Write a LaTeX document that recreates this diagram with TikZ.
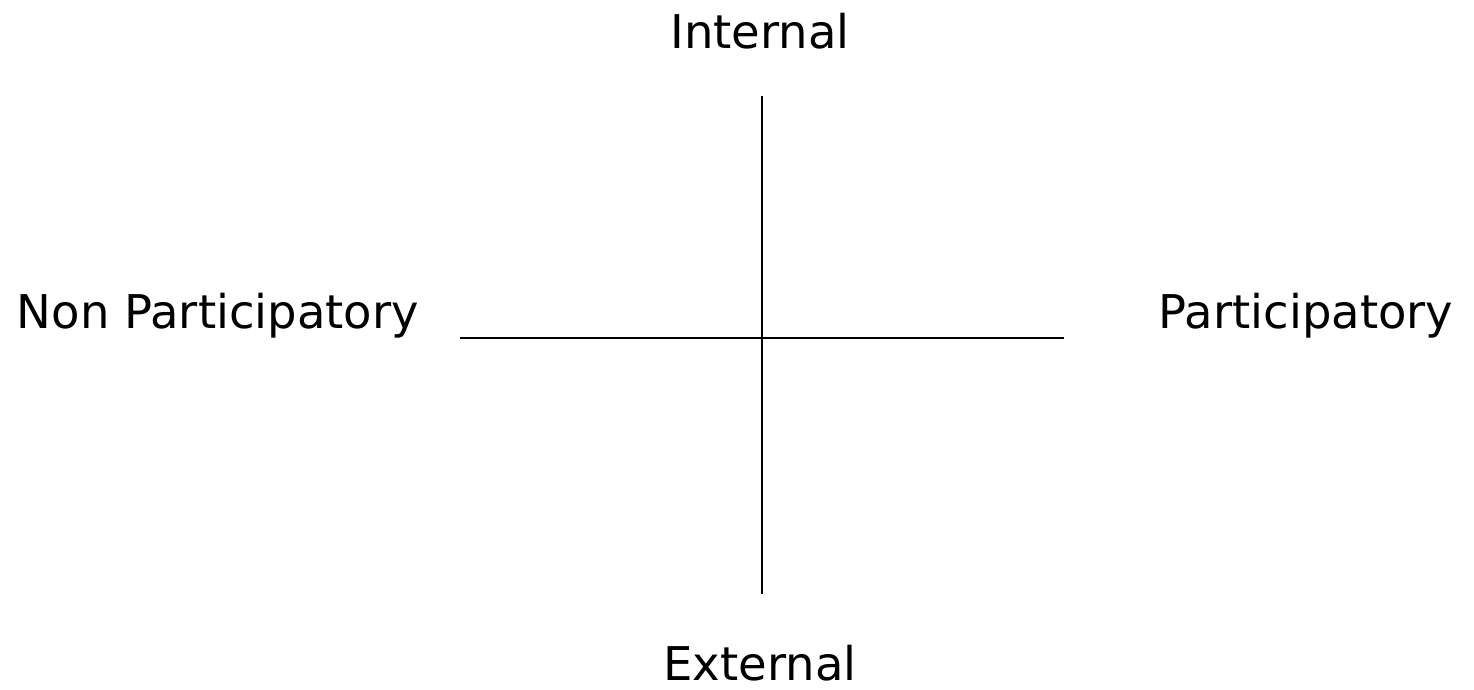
\documentclass[tikz,border=0pt]{standalone}
\usepackage{fontspec}
\setmainfont{DejaVu Sans}
\begin{document}
\begin{tikzpicture}[x=1pt,y=-1pt,
  lbl/.style={anchor=base,inner sep=0pt,font=\fontsize{46.5}{55}\selectfont},
  axis/.style={line width=2pt,black}]
\useasboundingbox (0,0) rectangle (1474,689);
\node[lbl] (int) at (760,48) {Internal};
\node[lbl] (ext) at (760,680) {External};
\node[lbl] (np) at (218,328) {Non Participatory};
\node[lbl] (p) at (1306,328) {Participatory};
\coordinate (vt) at (762,96);
\coordinate (vb) at (762,594);
\coordinate (hl) at (460,338);
\coordinate (hr) at (1064,338);
\draw[axis] (vt) -- (vb);
\draw[axis] (hl) -- (hr);
\end{tikzpicture}
\end{document}
